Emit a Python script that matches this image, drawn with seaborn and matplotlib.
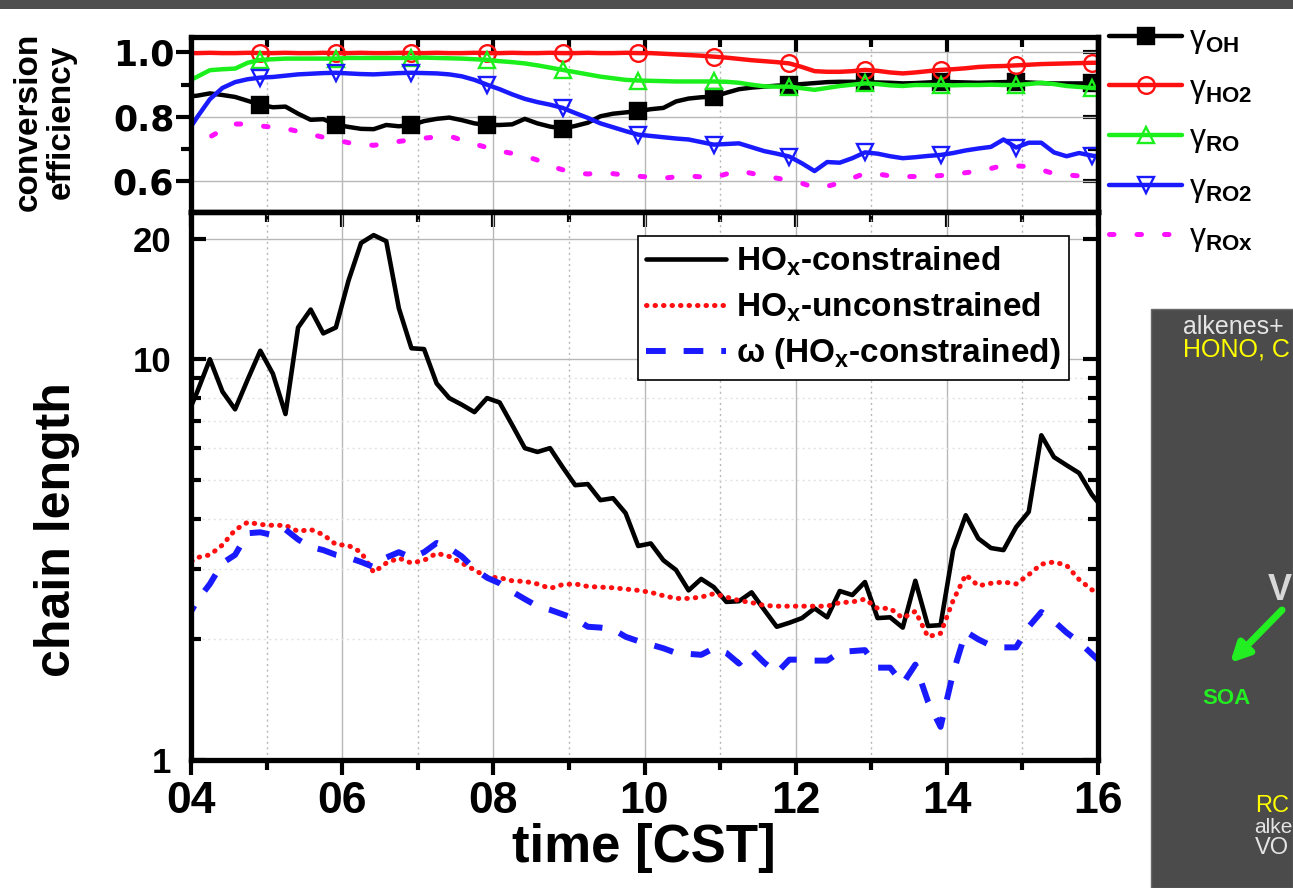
import numpy as np
import matplotlib
matplotlib.use("Agg")
import matplotlib.pyplot as plt
import seaborn as sns
from matplotlib.patches import Rectangle, FancyArrowPatch
from matplotlib.lines import Line2D
from matplotlib.ticker import FixedLocator, NullFormatter

# ---------------- data (10-min resolution, first sample 03:55) ----------------
t_first = 3 + 55 / 60
t_step = 10 / 60

gamma_oh = [0.862, 0.866, 0.873, 0.868, 0.862, 0.850, 0.838, 0.830, 0.832, 0.810,
            0.791, 0.793, 0.776, 0.769, 0.763, 0.762, 0.775, 0.771, 0.775, 0.787,
            0.794, 0.798, 0.790, 0.780, 0.775, 0.775, 0.777, 0.794, 0.780, 0.770,
            0.764, 0.772, 0.782, 0.802, 0.810, 0.814, 0.818, 0.824, 0.828, 0.848,
            0.857, 0.861, 0.863, 0.875, 0.886, 0.891, 0.894, 0.897, 0.899, 0.902,
            0.905, 0.908, 0.909, 0.909, 0.908, 0.907, 0.906, 0.904, 0.905, 0.907,
            0.909, 0.908, 0.907, 0.906, 0.907, 0.908, 0.909, 0.907, 0.905, 0.904,
            0.904, 0.904, 0.904, 0.904]
gamma_ho2 = [0.998, 0.998, 0.999, 0.998, 0.998, 0.999, 0.998, 0.998, 0.999, 0.998,
             0.998, 0.999, 0.998, 0.998, 0.999, 0.998, 0.998, 0.999, 0.998, 0.998,
             0.999, 0.998, 0.998, 0.999, 0.998, 0.998, 0.999, 0.998, 0.998, 0.999,
             0.998, 0.998, 0.999, 0.998, 0.998, 0.999, 0.998, 0.998, 0.996, 0.994,
             0.992, 0.990, 0.987, 0.984, 0.980, 0.976, 0.973, 0.970, 0.966, 0.955,
             0.942, 0.940, 0.940, 0.942, 0.946, 0.943, 0.938, 0.935, 0.938, 0.942,
             0.946, 0.948, 0.951, 0.955, 0.957, 0.958, 0.960, 0.962, 0.964, 0.965,
             0.966, 0.967, 0.968, 0.968]
gamma_ro = [0.905, 0.925, 0.945, 0.948, 0.950, 0.968, 0.977, 0.979, 0.981, 0.981,
            0.981, 0.981, 0.981, 0.983, 0.983, 0.983, 0.983, 0.983, 0.983, 0.984,
            0.983, 0.982, 0.981, 0.979, 0.977, 0.973, 0.970, 0.966, 0.960, 0.953,
            0.946, 0.939, 0.932, 0.925, 0.920, 0.915, 0.913, 0.912, 0.911, 0.910,
            0.910, 0.910, 0.910, 0.909, 0.906, 0.900, 0.895, 0.894, 0.894, 0.889,
            0.884, 0.890, 0.896, 0.900, 0.904, 0.902, 0.898, 0.896, 0.899, 0.899,
            0.899, 0.898, 0.899, 0.899, 0.900, 0.899, 0.899, 0.902, 0.906, 0.902,
            0.896, 0.893, 0.890, 0.888]
gamma_ro2 = [0.740, 0.800, 0.855, 0.890, 0.908, 0.917, 0.922, 0.924, 0.928, 0.932,
             0.934, 0.936, 0.937, 0.935, 0.933, 0.932, 0.934, 0.936, 0.937, 0.936,
             0.935, 0.932, 0.926, 0.915, 0.900, 0.886, 0.870, 0.856, 0.846, 0.838,
             0.828, 0.812, 0.797, 0.780, 0.768, 0.756, 0.745, 0.741, 0.737, 0.733,
             0.730, 0.722, 0.714, 0.716, 0.718, 0.706, 0.694, 0.686, 0.677, 0.656,
             0.632, 0.660, 0.658, 0.672, 0.690, 0.686, 0.678, 0.672, 0.675, 0.679,
             0.682, 0.688, 0.696, 0.702, 0.707, 0.730, 0.705, 0.720, 0.720, 0.690,
             0.678, 0.688, 0.680, 0.675]
gamma_rox = [0.725, 0.730, 0.738, 0.760, 0.778, 0.778, 0.772, 0.768, 0.764, 0.755,
             0.746, 0.737, 0.729, 0.720, 0.714, 0.712, 0.717, 0.724, 0.729, 0.734,
             0.738, 0.741, 0.728, 0.716, 0.705, 0.694, 0.687, 0.679, 0.666, 0.648,
             0.636, 0.626, 0.623, 0.626, 0.624, 0.619, 0.616, 0.613, 0.610, 0.614,
             0.617, 0.614, 0.612, 0.623, 0.633, 0.625, 0.617, 0.610, 0.603, 0.594,
             0.581, 0.585, 0.595, 0.610, 0.625, 0.623, 0.617, 0.615, 0.615, 0.616,
             0.618, 0.622, 0.627, 0.632, 0.640, 0.650, 0.648, 0.646, 0.636, 0.624,
             0.620, 0.617, 0.615, 0.615]

chain_hox_constrained = [7.0, 8.3, 10.0, 8.3, 7.5, 8.9, 10.5, 9.2, 7.3, 12.0,
                         13.3, 11.6, 12.0, 15.7, 19.5, 20.4, 19.7, 13.4, 10.65, 10.6,
                         8.7, 8.0, 7.7, 7.38, 8.0, 7.8, 6.85, 6.0, 5.87, 6.0,
                         5.38, 4.85, 4.88, 4.45, 4.5, 4.13, 3.42, 3.47, 3.15, 2.98,
                         2.65, 2.83, 2.7, 2.48, 2.49, 2.62, 2.37, 2.15, 2.2, 2.26,
                         2.39, 2.27, 2.64, 2.58, 2.78, 2.26, 2.27, 2.14, 2.80, 2.16,
                         2.17, 3.34, 4.08, 3.57, 3.38, 3.34, 3.81, 4.16, 6.46, 5.7,
                         5.44, 5.2, 4.6, 4.2]
chain_hox_unconstrained = [3.05, 3.2, 3.25, 3.44, 3.75, 3.92, 3.87, 3.85, 3.85, 3.72,
                           3.76, 3.65, 3.45, 3.43, 3.3, 2.94, 3.1, 3.19, 3.1, 3.15,
                           3.28, 3.22, 3.1, 2.98, 2.86, 2.85, 2.8, 2.79, 2.75, 2.68,
                           2.74, 2.75, 2.71, 2.7, 2.69, 2.67, 2.65, 2.62, 2.57, 2.53,
                           2.53, 2.55, 2.6, 2.55, 2.5, 2.47, 2.43, 2.42, 2.42, 2.42,
                           2.42, 2.42, 2.47, 2.48, 2.52, 2.39, 2.39, 2.26, 2.35, 2.03,
                           2.07, 2.5, 2.9, 2.72, 2.76, 2.78, 2.75, 2.9, 3.08, 3.12,
                           3.06, 2.82, 2.66, 2.58]
omega_hox_constrained = [2.2, 2.5, 2.75, 3.1, 3.25, 3.68, 3.7, 3.64, 3.76, 3.55,
                         3.4, 3.34, 3.25, 3.2, 3.12, 3.03, 3.2, 3.3, 3.2, 3.3,
                         3.48, 3.38, 3.22, 3.0, 2.85, 2.76, 2.63, 2.52, 2.42, 2.37,
                         2.31, 2.25, 2.15, 2.14, 2.12, 2.03, 1.98, 1.94, 1.9, 1.85,
                         1.84, 1.83, 1.9, 1.85, 1.74, 1.88, 1.75, 1.65, 1.78, 1.78,
                         1.77, 1.77, 1.86, 1.87, 1.88, 1.7, 1.7, 1.55, 1.73, 1.4,
                         1.21, 1.65, 2.09, 2.0, 1.93, 1.91, 1.91, 2.15, 2.34, 2.22,
                         2.08, 1.97, 1.84, 1.72]

time_h = t_first + t_step * np.arange(len(gamma_oh))

xticks_major = [4, 6, 8, 10, 12, 14, 16]
xtick_labels = ["04", "06", "08", "10", "12", "14", "16"]
xticks_minor = [5, 7, 9, 11, 13, 15]
top_yticks = [0.6, 0.8, 1.0]
top_yticklabels = ["0.6", "0.8", "1.0"]
top_yminor = [0.5, 0.7, 0.9]
bot_yticks = [1, 10, 20]
bot_yticklabels = ["1", "10", "20"]
bot_yminor = [2, 3, 4, 5, 6, 7, 8, 9]

top_labels = ["γ$_{\\mathbf{OH}}$", "γ$_{\\mathbf{HO2}}$", "γ$_{\\mathbf{RO}}$",
              "γ$_{\\mathbf{RO2}}$", "γ$_{\\mathbf{ROx}}$"]
bot_labels = ["HO$_{\\mathbf{x}}$-constrained", "HO$_{\\mathbf{x}}$-unconstrained",
              "ω (HO$_{\\mathbf{x}}$-constrained)"]

# ---------------- style ----------------
sns.set_theme(style="white")
plt.rcParams["font.family"] = ["Liberation Sans", "DejaVu Sans"]
plt.rcParams["mathtext.fontset"] = "custom"
plt.rcParams["mathtext.rm"] = "Liberation Sans"
plt.rcParams["mathtext.bf"] = "Liberation Sans:bold"
plt.rcParams["mathtext.it"] = "Liberation Sans:italic"
for key in ("text.color", "axes.labelcolor", "xtick.color", "ytick.color",
            "axes.edgecolor"):
    plt.rcParams[key] = "black"

W, H = 1293, 888
fig = plt.figure(figsize=(W / 100, H / 100), dpi=100)
fig.patch.set_facecolor("white")


def box(l, t, r, b):
    return [l / W, 1 - b / H, (r - l) / W, (b - t) / H]


ax1 = fig.add_axes(box(191, 37, 1098, 212))
ax2 = fig.add_axes(box(191, 212, 1098, 760))

RED = "#ff1010"
GREEN = "#1cf01c"
BLUE = "#1a1aff"
MAG = "#ff10ff"
mk = dict(markevery=(6, 6), markersize=12, markeredgewidth=1.7)

sns.lineplot(x=time_h, y=gamma_oh, ax=ax1, color="black", lw=3.2, marker="s",
             markerfacecolor="black", markeredgecolor="black", errorbar=None, legend=False, **mk)
sns.lineplot(x=time_h, y=gamma_ho2, ax=ax1, color=RED, lw=3.2, marker="o",
             markerfacecolor="none", markeredgecolor=RED, errorbar=None, legend=False, **mk)
sns.lineplot(x=time_h, y=gamma_ro, ax=ax1, color=GREEN, lw=3.2, marker="^",
             markerfacecolor="none", markeredgecolor=GREEN, errorbar=None, legend=False, **mk)
sns.lineplot(x=time_h, y=gamma_ro2, ax=ax1, color=BLUE, lw=3.2, marker="v",
             markerfacecolor="none", markeredgecolor=BLUE, errorbar=None, legend=False, **mk)
sns.lineplot(x=time_h, y=gamma_rox, ax=ax1, color=MAG, lw=3.6, linestyle=(0, (0.9, 4.6)),
             dash_capstyle="round", errorbar=None, legend=False)

ax2.set_yscale("log")
sns.lineplot(x=time_h, y=chain_hox_constrained, ax=ax2, color="black", lw=3.3,
             errorbar=None, legend=False)
sns.lineplot(x=time_h, y=chain_hox_unconstrained, ax=ax2, color=RED, lw=3.6,
             linestyle=(0, (0.1, 1.6)), dash_capstyle="round", errorbar=None, legend=False)
sns.lineplot(x=time_h, y=omega_hox_constrained, ax=ax2, color=BLUE, lw=4.3,
             linestyle=(0, (3.3, 3.0)), errorbar=None, legend=False)

# ---------------- axes formatting ----------------
SPW = 3.8
for ax in (ax1, ax2):
    ax.set_xlim(4, 16)
    ax.set_xlabel("")
    ax.set_ylabel("")
    ax.set_axisbelow(True)
    for s in ax.spines.values():
        s.set_color("black")
        s.set_linewidth(SPW)
    ax.set_xticks(xticks_major)
    ax.xaxis.set_minor_locator(FixedLocator(xticks_minor))
    ax.grid(axis="x", which="major", color="#b8b8b8", lw=1.0, ls="-")
    ax.grid(axis="x", which="minor", color="#b8b8b8", lw=1.0, ls=(0, (1.5, 2.5)))

ax1.set_ylim(0.505, 1.048)
ax1.set_yticks(top_yticks)
ax1.set_yticklabels(top_yticklabels)
ax1.yaxis.set_minor_locator(FixedLocator(top_yminor))
ax1.grid(axis="y", which="major", color="#b8b8b8", lw=1.0, ls="-")
ax1.tick_params(axis="x", which="both", bottom=False, top=True, direction="in",
                labelbottom=False)
ax1.tick_params(axis="x", which="major", length=11, width=3)
ax1.tick_params(axis="x", which="minor", length=7, width=3)
ax1.tick_params(axis="y", which="both", left=True, right=False, direction="out",
                pad=1)
ax1.tick_params(axis="y", which="major", length=11, width=3)
ax1.tick_params(axis="y", which="minor", length=7, width=3)
for lab in ax1.get_yticklabels():
    lab.set_fontfamily(["DejaVu Sans"])
    lab.set_fontweight("bold")
    lab.set_fontsize(25)

sec1 = ax1.secondary_yaxis("right")
sec1.set_yticks(top_yticks)
sec1.yaxis.set_minor_locator(FixedLocator(top_yminor))
sec1.tick_params(which="both", direction="in", labelright=False, width=3)
sec1.tick_params(which="major", length=11)
sec1.tick_params(which="minor", length=7)
sec1.spines["right"].set_linewidth(SPW)

ax2.set_ylim(1, 23.3)
ax2.yaxis.set_major_locator(FixedLocator(bot_yticks))
ax2.yaxis.set_minor_locator(FixedLocator(bot_yminor))
ax2.yaxis.set_minor_formatter(NullFormatter())
ax2.set_yticklabels(bot_yticklabels)
ax2.set_xticklabels(xtick_labels)
ax2.grid(axis="y", which="major", color="#b8b8b8", lw=1.0, ls="-")
ax2.grid(axis="y", which="minor", color="#e2e2e2", lw=1.0, ls=(0, (1.5, 2.5)))
ax2.tick_params(axis="y", which="both", left=True, right=True, direction="in", pad=14)
ax2.tick_params(axis="y", which="major", length=11, width=3)
ax2.tick_params(axis="y", which="minor", length=7, width=3)
ax2.tick_params(axis="x", which="both", bottom=True, top=False, direction="out", pad=4)
ax2.tick_params(axis="x", which="major", length=11, width=3)
ax2.tick_params(axis="x", which="minor", length=7, width=3)
for lab in ax2.get_yticklabels():
    lab.set_fontweight("bold")
    lab.set_fontsize(25)
for lab in ax2.get_xticklabels():
    lab.set_fontweight("bold")
    lab.set_fontsize(32)

sec2 = ax2.secondary_xaxis("top")
sec2.set_xticks(xticks_major)
sec2.xaxis.set_minor_locator(FixedLocator(xticks_minor))
sec2.tick_params(which="both", direction="in", labeltop=False, width=3)
sec2.tick_params(which="major", length=11)
sec2.tick_params(which="minor", length=7)
sec2.spines["top"].set_linewidth(SPW)

# ---------------- legends ----------------
def proxy(line):
    h = Line2D([], [])
    h.update_from(line)
    h.set_markevery(None)
    return h

h1 = [proxy(l) for l in ax1.lines[:5]]
fig.legend(h1, top_labels, loc="upper left", bbox_to_anchor=(1109 / W, 1 - 24 / H),
           bbox_transform=fig.transFigure, frameon=False, prop=dict(size=23),
           handlelength=2.3, handletextpad=0.2, labelspacing=0.55, borderpad=0,
           borderaxespad=0)

h2 = [proxy(l) for l in ax2.lines[:3]]
leg2 = ax2.legend(h2, bot_labels, loc="upper left", bbox_to_anchor=(638 / W, 1 - 236 / H),
                  bbox_transform=fig.transFigure, prop=dict(weight="bold", size=24),
                  frameon=True, fancybox=False, edgecolor="black", framealpha=1,
                  borderpad=0.25, borderaxespad=0, handlelength=2.4, handletextpad=0.3,
                  labelspacing=0.38)
leg2.get_frame().set_linewidth(1.2)

# ---------------- axis titles ----------------
fig.text(45 / W, 1 - 122 / H, "conversion\nefficiency", rotation=90, ha="center",
         va="center", fontsize=24, fontweight="bold", linespacing=1.1)
fig.text(57 / W, 1 - 530 / H, "chain length", rotation=90, ha="center", va="center",
         fontsize=36, fontweight="bold")
fig.text(644 / W, 1 - 848 / H, "time [CST]", ha="center", va="center",
         fontsize=38, fontweight="bold")

# ---------------- slide decorations ----------------
fig.patches.append(Rectangle((0, 1 - 9.5 / H), 1, 9.5 / H, transform=fig.transFigure,
                             facecolor="#4e4e4e", edgecolor="none"))
fig.patches.append(Rectangle((1151 / W, 0), (W - 1151) / W, (H - 309) / H,
                             transform=fig.transFigure, facecolor="#4b4b4b",
                             edgecolor="#6a6a6a", lw=1))
fig.text(1183 / W, 1 - 327 / H, "alkenes+", color="#e4e4e4", fontsize=18,
         va="center", ha="left")
fig.text(1183 / W, 1 - 349 / H, "HONO, C", color="#ffff00", fontsize=18,
         va="center", ha="left")
fig.text(1268 / W, 1 - 590 / H, "V", color="#d8d8d8", fontsize=26,
         fontweight="bold", va="center", ha="left")
fig.text(1226 / W, 1 - 698 / H, "SOA", color="#22ee22", fontsize=16,
         fontweight="bold", va="center", ha="center")
fig.text(1255 / W, 1 - 806 / H, "RC", color="#ffff00", fontsize=17,
         va="center", ha="left")
fig.text(1254 / W, 1 - 827 / H, "alke", color="#e4e4e4", fontsize=15,
         va="center", ha="left")
fig.text(1255 / W, 1 - 848 / H, "VO", color="#e4e4e4", fontsize=17,
         va="center", ha="left")
fig.patches.append(FancyArrowPatch((1284 / W, 1 - 608 / H), (1228 / W, 1 - 665 / H),
                                   transform=fig.transFigure, arrowstyle="-|>",
                                   mutation_scale=28, color="#22ee22", lw=5))

fig.savefig("out.png", dpi=100)
